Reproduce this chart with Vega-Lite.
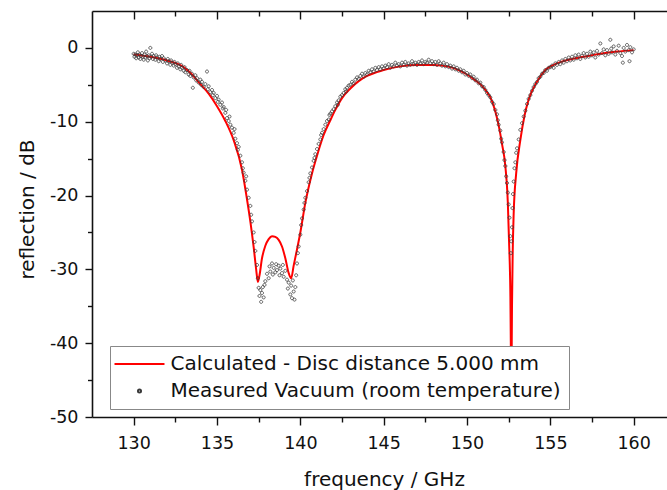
{
  "$schema": "https://vega.github.io/schema/vega-lite/v6.json",
  "autosize": {"type": "none"},
  "padding": {"left": 92, "top": 11, "right": 0, "bottom": 73},
  "width": 575,
  "height": 406,
  "background": "white",
  "config": {
    "view": {"stroke": null},
    "axis": {
      "grid": false,
      "domainColor": "#111", "domainWidth": 1.6,
      "tickColor": "#111", "tickWidth": 1.4,
      "labelColor": "#111", "titleColor": "#111",
      "labelFont": "DejaVu Sans", "titleFont": "DejaVu Sans",
      "labelFontSize": 17.5, "titleFontSize": 20, "titleFontWeight": "normal"
    }
  },
  "datasets": {
    "calc": [
      {"f":130,"r":-0.9},{"f":131,"r":-1.2},{"f":132,"r":-1.7},{"f":133,"r":-2.6},{"f":133.5,"r":-3.6},{"f":134,"r":-4.9},{"f":134.5,"r":-6.2},{"f":135,"r":-7.9},{"f":135.5,"r":-9.9},{"f":136,"r":-12.5},{"f":136.5,"r":-16.5},{"f":136.8,"r":-20.5},{"f":137,"r":-23.5},{"f":137.2,"r":-27},{"f":137.35,"r":-30},{"f":137.45,"r":-31.7},{"f":137.55,"r":-30.8},{"f":137.7,"r":-28.5},{"f":137.9,"r":-26.8},{"f":138.1,"r":-25.9},{"f":138.3,"r":-25.5},{"f":138.5,"r":-25.6},{"f":138.7,"r":-26.0},{"f":138.9,"r":-26.9},{"f":139.1,"r":-28.5},{"f":139.3,"r":-30.5},{"f":139.45,"r":-31.2},{"f":139.6,"r":-29.5},{"f":139.8,"r":-27.3},{"f":140,"r":-25},{"f":140.3,"r":-21},{"f":140.7,"r":-17},{"f":141,"r":-14.6},{"f":141.4,"r":-11.8},{"f":141.8,"r":-9.8},{"f":142.1,"r":-8.4},{"f":142.5,"r":-6.8},{"f":143,"r":-5.5},{"f":143.5,"r":-4.5},{"f":144,"r":-3.8},{"f":145,"r":-3.0},{"f":146,"r":-2.5},{"f":147,"r":-2.3},{"f":148,"r":-2.3},{"f":148.5,"r":-2.4},{"f":149,"r":-2.6},{"f":149.5,"r":-3.0},{"f":150,"r":-3.6},{"f":150.5,"r":-4.4},{"f":151,"r":-5.4},{"f":151.5,"r":-7.2},{"f":151.9,"r":-10.5},{"f":152.1,"r":-13},{"f":152.3,"r":-16},{"f":152.45,"r":-21},{"f":152.52,"r":-26},{"f":152.6,"r":-33},{"f":152.66,"r":-46},{"f":152.7,"r":-35},{"f":152.74,"r":-28},{"f":152.8,"r":-22.5},{"f":152.95,"r":-17},{"f":153.2,"r":-12.5},{"f":153.45,"r":-9.2},{"f":153.7,"r":-7.0},{"f":154.2,"r":-4.6},{"f":154.7,"r":-3.0},{"f":155.3,"r":-2.2},{"f":156.1,"r":-1.6},{"f":157,"r":-1.2},{"f":158,"r":-0.8},{"f":159,"r":-0.5},{"f":160,"r":-0.3}
    ],
    "meas": [
      {"f":130.00,"r":-0.8},{"f":130.05,"r":-1.2},{"f":130.10,"r":-0.9},{"f":130.15,"r":-1.4},{"f":130.20,"r":-1.0},{"f":130.25,"r":-0.6},{"f":130.30,"r":-1.3},{"f":130.35,"r":-0.9},{"f":130.40,"r":-1.5},{"f":130.45,"r":-1.1},{"f":130.50,"r":-0.7},{"f":130.55,"r":-1.2},{"f":130.60,"r":-1.6},{"f":130.65,"r":-0.9},{"f":130.70,"r":-1.3},{"f":130.75,"r":-0.5},{"f":130.80,"r":-1.1},{"f":130.85,"r":-1.7},{"f":130.90,"r":-1.0},{"f":130.95,"r":-1.4},
      {"f":131.00,"r":0.0},{"f":131.05,"r":-1.2},{"f":131.10,"r":-0.8},{"f":131.15,"r":-1.5},{"f":131.20,"r":-1.1},{"f":131.30,"r":-1.6},{"f":131.35,"r":-1.0},{"f":131.40,"r":-1.3},{"f":131.50,"r":-1.8},{"f":131.55,"r":-1.2},{"f":131.60,"r":-1.5},{"f":131.70,"r":-1.1},{"f":131.75,"r":-1.9},{"f":131.80,"r":-1.4},{"f":131.90,"r":-1.7},
      {"f":132.00,"r":-2.1},{"f":132.05,"r":-1.5},{"f":132.10,"r":-1.8},{"f":132.20,"r":-2.3},{"f":132.25,"r":-1.7},{"f":132.30,"r":-2.0},{"f":132.40,"r":-2.4},{"f":132.45,"r":-1.9},{"f":132.50,"r":-2.2},{"f":132.60,"r":-2.7},{"f":132.65,"r":-2.1},{"f":132.70,"r":-2.5},{"f":132.80,"r":-2.9},{"f":132.85,"r":-2.3},{"f":132.90,"r":-2.7},
      {"f":133.00,"r":-3.1},{"f":133.05,"r":-2.6},{"f":133.10,"r":-3.3},{"f":133.20,"r":-3.0},{"f":133.30,"r":-3.6},{"f":133.35,"r":-3.1},{"f":133.40,"r":-3.8},{"f":133.50,"r":-3.5},{"f":133.55,"r":-5.4},{"f":133.60,"r":-4.0},{"f":133.70,"r":-3.7},{"f":133.75,"r":-4.4},{"f":133.80,"r":-4.1},{"f":133.90,"r":-4.7},
      {"f":134.00,"r":-4.3},{"f":134.05,"r":-5.0},{"f":134.10,"r":-4.6},{"f":134.20,"r":-5.3},{"f":134.30,"r":-4.9},{"f":134.40,"r":-3.2},{"f":134.45,"r":-5.6},{"f":134.50,"r":-5.2},{"f":134.60,"r":-6.0},{"f":134.70,"r":-5.7},{"f":134.75,"r":-6.4},{"f":134.80,"r":-6.1},{"f":134.90,"r":-6.8},
      {"f":135.00,"r":-6.5},{"f":135.05,"r":-7.3},{"f":135.10,"r":-7.0},{"f":135.20,"r":-7.7},{"f":135.30,"r":-7.4},{"f":135.35,"r":-8.2},{"f":135.40,"r":-8.0},{"f":135.50,"r":-8.8},{"f":135.55,"r":-8.4},{"f":135.60,"r":-9.5},{"f":135.70,"r":-9.9},{"f":135.75,"r":-9.3},{"f":135.80,"r":-10.4},{"f":135.90,"r":-10.8},
      {"f":136.00,"r":-11.5},{"f":136.05,"r":-11.0},{"f":136.10,"r":-12.3},{"f":136.20,"r":-12.9},{"f":136.25,"r":-13.8},{"f":136.30,"r":-13.4},{"f":136.40,"r":-14.6},{"f":136.50,"r":-15.5},{"f":136.55,"r":-16.3},{"f":136.60,"r":-16.9},{"f":136.70,"r":-18.0},{"f":136.75,"r":-17.4},{"f":136.80,"r":-19.2},{"f":136.90,"r":-20.3},
      {"f":137.00,"r":-21.4},{"f":137.05,"r":-22.6},{"f":137.10,"r":-23.5},{"f":137.20,"r":-25.0},{"f":137.25,"r":-26.3},{"f":137.30,"r":-27.5},{"f":137.40,"r":-29.4},{"f":137.45,"r":-31.2},{"f":137.50,"r":-32.5},{"f":137.55,"r":-33.6},{"f":137.60,"r":-32.8},{"f":137.65,"r":-34.4},{"f":137.70,"r":-33.2},{"f":137.75,"r":-32.4},{"f":137.80,"r":-33.8},{"f":137.85,"r":-32.1},{"f":137.90,"r":-31.6},
      {"f":138.00,"r":-30.6},{"f":138.10,"r":-31.2},{"f":138.15,"r":-29.6},{"f":138.20,"r":-30.3},{"f":138.30,"r":-29.2},{"f":138.35,"r":-30.7},{"f":138.40,"r":-29.8},{"f":138.50,"r":-30.4},{"f":138.55,"r":-29.3},{"f":138.60,"r":-30.1},{"f":138.70,"r":-29.5},{"f":138.75,"r":-30.8},{"f":138.80,"r":-29.9},{"f":138.90,"r":-30.5},{"f":138.95,"r":-29.4},
      {"f":139.00,"r":-31.0},{"f":139.10,"r":-30.2},{"f":139.20,"r":-31.4},{"f":139.25,"r":-32.6},{"f":139.30,"r":-31.8},{"f":139.40,"r":-33.4},{"f":139.45,"r":-32.2},{"f":139.50,"r":-33.9},{"f":139.55,"r":-31.5},{"f":139.60,"r":-33.0},{"f":139.65,"r":-34.1},{"f":139.70,"r":-32.4},{"f":139.75,"r":-30.8},{"f":139.80,"r":-29.2},{"f":139.85,"r":-27.8},{"f":139.90,"r":-26.9},
      {"f":140.00,"r":-25.3},{"f":140.05,"r":-24.0},{"f":140.10,"r":-23.1},{"f":140.20,"r":-21.9},{"f":140.25,"r":-21.0},{"f":140.30,"r":-20.3},{"f":140.40,"r":-19.4},{"f":140.50,"r":-18.2},{"f":140.55,"r":-17.6},{"f":140.60,"r":-17.0},{"f":140.70,"r":-16.2},{"f":140.80,"r":-15.3},{"f":140.85,"r":-14.9},{"f":140.90,"r":-14.4},
      {"f":141.00,"r":-13.7},{"f":141.10,"r":-13.0},{"f":141.20,"r":-12.4},{"f":141.25,"r":-11.8},{"f":141.30,"r":-11.5},{"f":141.40,"r":-11.0},{"f":141.50,"r":-10.4},{"f":141.60,"r":-9.9},{"f":141.70,"r":-9.7},{"f":141.75,"r":-9.1},{"f":141.80,"r":-8.9},{"f":141.90,"r":-8.6},
      {"f":142.00,"r":-8.3},{"f":142.10,"r":-7.9},{"f":142.20,"r":-7.4},{"f":142.25,"r":-7.7},{"f":142.30,"r":-7.1},{"f":142.40,"r":-6.6},{"f":142.50,"r":-6.4},{"f":142.60,"r":-6.1},{"f":142.70,"r":-5.6},{"f":142.75,"r":-5.9},{"f":142.80,"r":-5.4},{"f":142.90,"r":-5.1},
      {"f":143.00,"r":-5.0},{"f":143.10,"r":-4.6},{"f":143.20,"r":-4.8},{"f":143.30,"r":-4.3},{"f":143.40,"r":-4.0},{"f":143.50,"r":-4.2},{"f":143.60,"r":-3.8},{"f":143.70,"r":-3.5},{"f":143.80,"r":-3.9},{"f":143.90,"r":-3.4},
      {"f":144.00,"r":-3.6},{"f":144.10,"r":-3.1},{"f":144.20,"r":-3.3},{"f":144.30,"r":-2.9},{"f":144.40,"r":-3.2},{"f":144.50,"r":-2.7},{"f":144.60,"r":-3.0},{"f":144.70,"r":-2.6},{"f":144.80,"r":-2.9},{"f":144.90,"r":-2.5},
      {"f":145.00,"r":-2.8},{"f":145.10,"r":-2.4},{"f":145.20,"r":-2.6},{"f":145.30,"r":-2.2},{"f":145.40,"r":-2.7},{"f":145.50,"r":-2.3},{"f":145.60,"r":-2.5},{"f":145.70,"r":-2.0},{"f":145.80,"r":-2.4},{"f":145.90,"r":-2.2},
      {"f":146.00,"r":-2.5},{"f":146.10,"r":-2.0},{"f":146.20,"r":-2.3},{"f":146.30,"r":-1.9},{"f":146.40,"r":-2.4},{"f":146.50,"r":-2.1},{"f":146.60,"r":-2.3},{"f":146.70,"r":-1.8},{"f":146.80,"r":-2.2},{"f":146.90,"r":-2.0},
      {"f":147.00,"r":-2.3},{"f":147.10,"r":-1.9},{"f":147.20,"r":-2.1},{"f":147.30,"r":-1.7},{"f":147.40,"r":-2.2},{"f":147.50,"r":-1.9},{"f":147.60,"r":-2.0},{"f":147.70,"r":-1.6},{"f":147.80,"r":-2.1},{"f":147.90,"r":-1.8},
      {"f":148.00,"r":-2.2},{"f":148.10,"r":-1.9},{"f":148.20,"r":-2.3},{"f":148.30,"r":-1.8},{"f":148.40,"r":-2.1},{"f":148.50,"r":-2.4},{"f":148.60,"r":-2.0},{"f":148.70,"r":-2.5},{"f":148.80,"r":-2.2},{"f":148.90,"r":-2.6},
      {"f":149.00,"r":-2.4},{"f":149.10,"r":-2.8},{"f":149.20,"r":-2.5},{"f":149.30,"r":-2.9},{"f":149.40,"r":-2.7},{"f":149.50,"r":-3.1},{"f":149.60,"r":-2.9},{"f":149.70,"r":-3.3},{"f":149.80,"r":-3.1},{"f":149.90,"r":-3.6},
      {"f":150.00,"r":-3.4},{"f":150.10,"r":-3.8},{"f":150.20,"r":-3.6},{"f":150.30,"r":-4.1},{"f":150.40,"r":-3.9},{"f":150.50,"r":-4.4},{"f":150.60,"r":-4.3},{"f":150.70,"r":-4.8},{"f":150.80,"r":-4.7},{"f":150.90,"r":-5.2},
      {"f":151.00,"r":-5.3},{"f":151.10,"r":-5.7},{"f":151.20,"r":-6.1},{"f":151.30,"r":-6.4},{"f":151.40,"r":-6.7},{"f":151.50,"r":-7.3},{"f":151.60,"r":-7.6},{"f":151.70,"r":-8.4},{"f":151.80,"r":-9.0},{"f":151.85,"r":-9.8},{"f":151.90,"r":-10.4},
      {"f":152.00,"r":-11.2},{"f":152.05,"r":-12.3},{"f":152.10,"r":-12.8},{"f":152.20,"r":-14.1},{"f":152.25,"r":-15.2},{"f":152.30,"r":-16.0},{"f":152.35,"r":-17.4},{"f":152.40,"r":-18.3},{"f":152.45,"r":-19.6},{"f":152.50,"r":-21.2},{"f":152.55,"r":-23.0},{"f":152.60,"r":-25.5},{"f":152.63,"r":-27.8},{"f":152.66,"r":-26.2},{"f":152.70,"r":-24.3},{"f":152.73,"r":-21.7},{"f":152.76,"r":-19.8},{"f":152.80,"r":-18.1},{"f":152.85,"r":-16.3},{"f":152.90,"r":-15.5},{"f":152.95,"r":-14.2},
      {"f":153.00,"r":-13.6},{"f":153.10,"r":-12.4},{"f":153.20,"r":-11.1},{"f":153.30,"r":-10.2},{"f":153.40,"r":-9.3},{"f":153.50,"r":-8.5},{"f":153.60,"r":-7.6},{"f":153.70,"r":-6.9},{"f":153.80,"r":-6.4},{"f":153.90,"r":-5.8},
      {"f":154.00,"r":-5.3},{"f":154.10,"r":-4.9},{"f":154.20,"r":-4.6},{"f":154.30,"r":-4.1},{"f":154.40,"r":-3.9},{"f":154.50,"r":-3.5},{"f":154.60,"r":-3.4},{"f":154.70,"r":-3.0},{"f":154.80,"r":-3.1},{"f":154.90,"r":-2.7},
      {"f":155.00,"r":-2.6},{"f":155.10,"r":-2.4},{"f":155.20,"r":-2.7},{"f":155.30,"r":-2.1},{"f":155.40,"r":-2.3},{"f":155.50,"r":-1.9},{"f":155.60,"r":-2.2},{"f":155.70,"r":-1.7},{"f":155.80,"r":-2.0},{"f":155.90,"r":-1.5},
      {"f":156.00,"r":-1.8},{"f":156.10,"r":-1.3},{"f":156.20,"r":-1.7},{"f":156.30,"r":-1.2},{"f":156.40,"r":-1.6},{"f":156.50,"r":-1.0},{"f":156.60,"r":-1.4},{"f":156.70,"r":-0.9},{"f":156.80,"r":-1.5},{"f":156.90,"r":-1.1},
      {"f":157.00,"r":-0.7},{"f":157.10,"r":-1.3},{"f":157.20,"r":-0.8},{"f":157.30,"r":-1.2},{"f":157.40,"r":-0.5},{"f":157.50,"r":-1.0},{"f":157.60,"r":-0.6},{"f":157.70,"r":-1.3},{"f":157.80,"r":-0.4},{"f":157.90,"r":-0.9},
      {"f":158.00,"r":0.6},{"f":158.10,"r":-0.7},{"f":158.20,"r":-0.2},{"f":158.30,"r":-1.0},{"f":158.40,"r":-0.3},{"f":158.50,"r":-0.8},{"f":158.60,"r":1.1},{"f":158.65,"r":-0.1},{"f":158.70,"r":-0.6},{"f":158.80,"r":0.2},{"f":158.90,"r":-0.9},
      {"f":159.00,"r":-0.4},{"f":159.10,"r":0.3},{"f":159.20,"r":-0.7},{"f":159.30,"r":-1.1},{"f":159.35,"r":-2.0},{"f":159.40,"r":0.0},{"f":159.50,"r":-0.5},{"f":159.60,"r":0.4},{"f":159.70,"r":-0.3},{"f":159.75,"r":-1.8},{"f":159.80,"r":0.1},{"f":159.90,"r":-0.6},{"f":160.00,"r":-0.2}
    ]
  },
  "layer": [
    {
      "data": {"name": "calc"},
      "mark": {"type": "line", "strokeWidth": 2, "interpolate": "monotone", "clip": true},
      "encoding": {
        "x": {"field": "f", "type": "quantitative",
          "scale": {"domain": [127.5, 162], "nice": false, "zero": false},
          "axis": {"orient": "top", "values": [130,132.5,135,137.5,140,142.5,145,147.5,150,152.5,155,157.5,160],
            "labels": false, "title": null,
            "tickSize": {"condition": {"test": "datum.value % 5 === 0", "value": -8}, "value": -5}}},
        "y": {"field": "r", "type": "quantitative",
          "scale": {"domain": [-50, 5], "nice": false, "zero": false}},
        "color": {"datum": "Calculated - Disc distance 5.000 mm", "type": "nominal",
          "scale": {"domain": ["Calculated - Disc distance 5.000 mm", "Measured Vacuum (room temperature)"], "range": ["#ff0000", "#3a3a3a"]}}
      }
    },
    {
      "data": {"name": "meas"},
      "mark": {"type": "point", "filled": false, "size": 104, "opacity": 1, "strokeWidth": 0.8, "clip": true},
      "encoding": {
        "x": {"field": "f", "type": "quantitative",
          "scale": {"domain": [127.5, 162], "nice": false, "zero": false},
          "axis": {"orient": "bottom", "values": [130,132.5,135,137.5,140,142.5,145,147.5,150,152.5,155,157.5,160],
            "labelExpr": "datum.value % 5 === 0 ? toString(datum.value) : ''",
            "labelPadding": 9, "labelFlush": false,
            "tickSize": {"condition": {"test": "datum.value % 5 === 0", "value": 8}, "value": 5},
            "title": "frequency / GHz", "titleX": 292, "titleY": 68, "titleBaseline": "alphabetic", "titleAlign": "center"}},
        "y": {"field": "r", "type": "quantitative",
          "scale": {"domain": [-50, 5], "nice": false, "zero": false},
          "axis": {"values": [-50,-45,-40,-35,-30,-25,-20,-15,-10,-5,0],
            "labelExpr": "datum.value % 10 === 0 ? toString(datum.value) : ''",
            "labelPadding": 7, "labelFlush": false,
            "tickSize": {"condition": {"test": "datum.value % 10 === 0", "value": 7}, "value": 4.5},
            "title": "reflection / dB", "titleX": -59, "titleY": 198, "titleBaseline": "alphabetic", "titleAlign": "center", "titleAngle": 270}},
        "color": {"datum": "Measured Vacuum (room temperature)", "type": "nominal",
          "scale": {"domain": ["Calculated - Disc distance 5.000 mm", "Measured Vacuum (room temperature)"], "range": ["#ff0000", "#3a3a3a"]},
          "legend": {"title": null, "orient": "none", "legendX": 18, "legendY": 335,
            "padding": 8, "fillColor": "white", "strokeColor": "#888888", "cornerRadius": 0,
            "labelFont": "DejaVu Sans", "labelFontSize": 20, "labelColor": "#111111", "labelLimit": 1000,
            "rowPadding": 7, "symbolOffset": 11.5, "labelOffset": 21, "symbolSize": 104, "symbolStrokeWidth": 2}},
        "shape": {"datum": "Measured Vacuum (room temperature)", "type": "nominal",
          "scale": {"domain": ["Calculated - Disc distance 5.000 mm", "Measured Vacuum (room temperature)"],
            "range": ["M-4.9,0H4.9", "M-0.3,0A0.3,0.3,0,1,0,0.3,0A0.3,0.3,0,1,0,-0.3,0"]}}
      }
    }
  ],
  "resolve": {"axis": {"x": "independent"}}
}
